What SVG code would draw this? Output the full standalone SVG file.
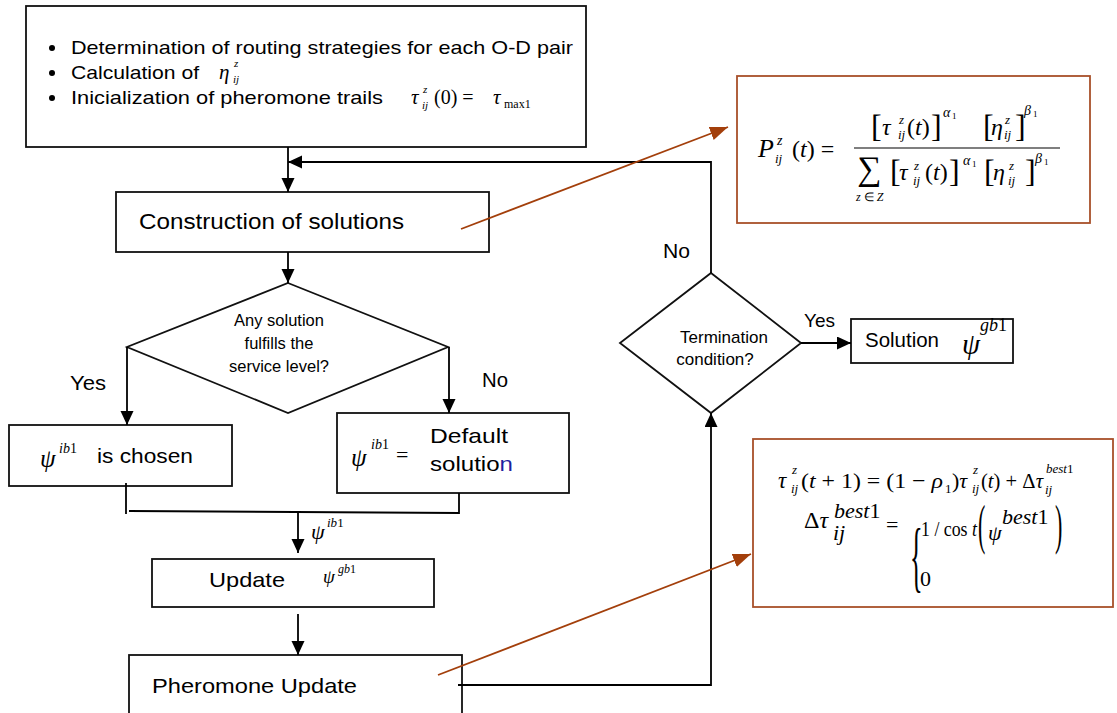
<svg xmlns="http://www.w3.org/2000/svg" width="1117" height="713" viewBox="0 0 1117 713">
<defs>
<marker id="ah" markerUnits="userSpaceOnUse" markerWidth="14" markerHeight="14" refX="14" refY="6.5" orient="auto"><path d="M0,0 L14,6.5 L0,13 z" fill="#000"/></marker>
<marker id="bh" markerUnits="userSpaceOnUse" markerWidth="20" markerHeight="16" refX="18" refY="7" orient="auto"><path d="M0,0 L18,7 L0,14 z" fill="#A33F0B"/></marker>
</defs>
<style>
.box{fill:#fff;stroke:#111;stroke-width:1.8}
.bbox{fill:#fff;stroke:#A8502A;stroke-width:1.8}
.ln{fill:none;stroke:#000;stroke-width:1.8}
.br{fill:none;stroke:#A33F0B;stroke-width:1.8}
.t{font-family:"Liberation Sans",Arial,sans-serif;fill:#000}
.m{font-family:"Liberation Serif","Times New Roman",serif;font-style:italic;fill:#000}
.r{font-family:"Liberation Serif","Times New Roman",serif;fill:#000}
.n{font-style:normal}
</style>

<g id="n-init">
<rect class="box" x="26" y="6" width="560" height="141"/>
<circle cx="52" cy="48" r="3"/><circle cx="52" cy="73" r="3"/><circle cx="52" cy="98" r="3"/>
<text class="t" x="71" y="54" font-size="19" textLength="502" lengthAdjust="spacingAndGlyphs">Determination of routing strategies for each O-D pair</text>
<text class="t" x="71" y="79" font-size="19" textLength="128" lengthAdjust="spacingAndGlyphs">Calculation of</text>
<text class="m" x="219" y="79" font-size="21">η</text>
<text class="m" x="234" y="67" font-size="11">z</text>
<text class="m" x="233" y="83" font-size="11">ij</text>
<text class="t" x="71" y="104" font-size="19" textLength="312" lengthAdjust="spacingAndGlyphs">Inicialization of pheromone trails</text>
<text class="m" x="411" y="104" font-size="21">τ</text>
<text class="m" x="423" y="93" font-size="11">z</text>
<text class="m" x="422" y="109" font-size="11">ij</text>
<text class="r" x="434" y="104" font-size="20">(0) =</text>
<text class="m" x="493" y="104" font-size="21">τ</text>
<text class="r" x="504" y="108" font-size="12">max1</text>
</g>

<g id="n-construct">
<rect class="box" x="116" y="192" width="373" height="60"/>
<text class="t" x="139" y="229" font-size="21.5" textLength="265" lengthAdjust="spacingAndGlyphs">Construction of solutions</text>
</g>

<g id="n-decision1">
<polygon class="box" points="288,283 448,347 288,413 127,347"/>
<text class="t" x="279" y="326" font-size="16.5" text-anchor="middle">Any solution</text>
<text class="t" x="279" y="349" font-size="16.5" text-anchor="middle">fulfills the</text>
<text class="t" x="279" y="372" font-size="16.5" text-anchor="middle">service level?</text>
</g>

<g id="n-chosen">
<rect class="box" x="9" y="425" width="223" height="61"/>
<text class="m" x="40" y="467" font-size="25">ψ</text>
<text class="m" x="59" y="453" font-size="14">ib<tspan class="n">1</tspan></text>
<text class="t" x="97" y="463" font-size="21" textLength="96" lengthAdjust="spacingAndGlyphs">is chosen</text>
</g>

<g id="n-default">
<rect class="box" x="337" y="413" width="232" height="80"/>
<text class="m" x="351" y="466" font-size="25">ψ</text>
<text class="m" x="371" y="449" font-size="14">ib<tspan class="n">1</tspan></text>
<text class="r" x="396" y="462" font-size="22">=</text>
<text class="t" x="430" y="443" font-size="21" textLength="78" lengthAdjust="spacingAndGlyphs">Default</text>
<text class="t" x="430" y="471" font-size="21" textLength="83" lengthAdjust="spacingAndGlyphs">solutio<tspan fill="#1F1FA0">n</tspan></text>
</g>

<g id="n-update">
<rect class="box" x="152" y="559" width="282" height="48"/>
<text class="t" x="209" y="587" font-size="21" textLength="76" lengthAdjust="spacingAndGlyphs">Update</text>
<text class="m" x="323" y="583" font-size="19">ψ</text>
<text class="m" x="338" y="573" font-size="12">gb<tspan class="n">1</tspan></text>
</g>

<g id="n-pheromone">
<rect class="box" x="129" y="655" width="333" height="70"/>
<text class="t" x="152" y="693" font-size="21" textLength="205" lengthAdjust="spacingAndGlyphs">Pheromone Update</text>
</g>

<g id="n-termination">
<polygon class="box" points="711,273 801,343 711,413 620,343"/>
<text class="t" x="724" y="343" font-size="17" text-anchor="middle">Termination</text>
<text class="t" x="715" y="365" font-size="17" text-anchor="middle">condition?</text>
</g>

<g id="n-solution">
<rect class="box" x="851" y="319" width="162" height="44"/>
<text class="t" x="865" y="347" font-size="20" textLength="74" lengthAdjust="spacingAndGlyphs">Solution</text>
<text class="m" x="962" y="354" font-size="29">ψ</text>
<text class="m" x="980" y="331" font-size="18">gb<tspan class="n">1</tspan></text>
</g>

<g id="n-formula1">
<rect class="bbox" x="737" y="76" width="353" height="147"/>
<text class="m" x="758" y="157" font-size="26">P</text>
<text class="m" x="777" y="145" font-size="14">z</text>
<text class="m" x="775" y="163" font-size="13">ij</text>
<text class="r" x="792" y="157" font-size="24">(<tspan font-style="italic">t</tspan>) =</text>
<line x1="854" y1="148" x2="1060" y2="148" stroke="#000" stroke-width="1.2"/>
<text class="r" x="871" y="137" font-size="32">[</text>
<text class="m" x="882" y="135" font-size="24">τ</text>
<text class="m" x="899" y="124" font-size="13">z</text>
<text class="m" x="898" y="139" font-size="13">ij</text>
<text class="r" x="907" y="135" font-size="24">(<tspan font-style="italic">t</tspan>)</text>
<text class="r" x="931" y="137" font-size="32">]</text>
<text class="m" x="943" y="117" font-size="14">α</text><text class="r" x="952" y="119" font-size="9">1</text>
<text class="r" x="983" y="137" font-size="32">[</text>
<text class="m" x="991" y="135" font-size="24">η</text>
<text class="m" x="1005" y="124" font-size="13">z</text>
<text class="m" x="1004" y="139" font-size="13">ij</text>
<text class="r" x="1015" y="137" font-size="32">]</text>
<text class="m" x="1024" y="115" font-size="14">β</text><text class="r" x="1033" y="117" font-size="9">1</text>
<text class="r" x="857" y="180" font-size="34">∑</text>
<text class="m" x="856" y="201" font-size="12">z <tspan class="n">∈</tspan> Z</text>
<text class="r" x="890" y="182" font-size="32">[</text>
<text class="m" x="899" y="180" font-size="24">τ</text>
<text class="m" x="914" y="170" font-size="13">z</text>
<text class="m" x="913" y="185" font-size="13">ij</text>
<text class="r" x="925" y="180" font-size="24">(<tspan font-style="italic">t</tspan>)</text>
<text class="r" x="949" y="182" font-size="32">]</text>
<text class="m" x="963" y="165" font-size="14">α</text><text class="r" x="972" y="167" font-size="9">1</text>
<text class="r" x="984" y="182" font-size="32">[</text>
<text class="m" x="993" y="180" font-size="24">η</text>
<text class="m" x="1009" y="170" font-size="13">z</text>
<text class="m" x="1008" y="185" font-size="13">ij</text>
<text class="r" x="1025" y="182" font-size="32">]</text>
<text class="m" x="1035" y="163" font-size="14">β</text><text class="r" x="1044" y="165" font-size="9">1</text>
</g>

<g id="n-formula2">
<rect class="bbox" x="753" y="439" width="360" height="168"/>
<text class="m" x="778" y="488" font-size="23">τ</text>
<text class="m" x="792" y="474" font-size="13">z</text>
<text class="m" x="791" y="493" font-size="13">ij</text>
<text class="r" x="801" y="488" font-size="22" textLength="142" lengthAdjust="spacingAndGlyphs">(<tspan font-style="italic">t</tspan> + 1) = (1 − <tspan font-style="italic">ρ</tspan></text>
<text class="r" x="945" y="493" font-size="13">1</text>
<text class="r" x="952" y="488" font-size="22">)<tspan font-style="italic">τ</tspan></text>
<text class="m" x="973" y="474" font-size="13">z</text>
<text class="m" x="972" y="493" font-size="13">ij</text>
<text class="r" x="981" y="488" font-size="22" textLength="62" lengthAdjust="spacingAndGlyphs">(<tspan font-style="italic">t</tspan>) + Δ<tspan font-style="italic">τ</tspan></text>
<text class="m" x="1046" y="473" font-size="13">best<tspan class="n">1</tspan></text>
<text class="m" x="1045" y="494" font-size="13">ij</text>
<text class="r" x="804" y="528" font-size="24">Δ<tspan font-style="italic">τ</tspan></text>
<text class="m" x="834" y="518" font-size="22">best<tspan class="n">1</tspan></text>
<text class="m" x="833" y="540" font-size="22">ij</text>
<text class="r" x="886" y="532" font-size="22">=</text>
<text class="r" x="0" y="0" font-size="22" transform="translate(910,583) scale(1.2,3.6)">{</text>
<text class="r" x="921" y="536" font-size="22" textLength="56" lengthAdjust="spacingAndGlyphs">1 / cos <tspan font-style="italic">t</tspan></text>
<text class="r" x="0" y="0" font-size="22" transform="translate(978,543) scale(1,2.5)">(</text>
<text class="m" x="988" y="540" font-size="22">ψ</text>
<text class="m" x="1002" y="524" font-size="22">best<tspan class="n">1</tspan></text>
<text class="r" x="0" y="0" font-size="22" transform="translate(1055,543) scale(1,2.5)">)</text>
<text class="r" x="920" y="586" font-size="22">0</text>
</g>

<g id="connectors">
<line class="ln" x1="288" y1="147" x2="288" y2="192" marker-end="url(#ah)"/>
<path class="ln" d="M711,273 V162 H288" marker-end="url(#ah)"/>
<line class="ln" x1="288" y1="252" x2="288" y2="283" marker-end="url(#ah)"/>
<line class="ln" x1="127" y1="347" x2="127" y2="425" marker-end="url(#ah)"/>
<line class="ln" x1="449" y1="347" x2="449" y2="413" marker-end="url(#ah)"/>
<line class="ln" x1="126" y1="483" x2="126" y2="514"/>
<path class="ln" d="M129,511 L459,513 V493"/>
<line class="ln" x1="298" y1="512" x2="298" y2="553" marker-end="url(#ah)"/>
<line class="ln" x1="298" y1="614" x2="298" y2="655" marker-end="url(#ah)"/>
<path class="ln" d="M458,685 H711 V413" marker-end="url(#ah)"/>
<line class="ln" x1="801" y1="343" x2="851" y2="343" marker-end="url(#ah)"/>
<line class="br" x1="461" y1="229" x2="728" y2="127" marker-end="url(#bh)"/>
<line class="br" x1="438" y1="675" x2="751" y2="554" marker-end="url(#bh)"/>
<text class="t" x="70" y="390" font-size="21" textLength="36" lengthAdjust="spacingAndGlyphs">Yes</text>
<text class="t" x="482" y="387" font-size="21" textLength="26" lengthAdjust="spacingAndGlyphs">No</text>
<text class="t" x="663" y="258" font-size="21" textLength="27" lengthAdjust="spacingAndGlyphs">No</text>
<text class="t" x="804" y="327" font-size="19" textLength="31" lengthAdjust="spacingAndGlyphs">Yes</text>
<text class="m" x="311" y="539" font-size="22">ψ</text>
<text class="m" x="327" y="527" font-size="13">ib<tspan class="n">1</tspan></text>
</g>
</svg>
